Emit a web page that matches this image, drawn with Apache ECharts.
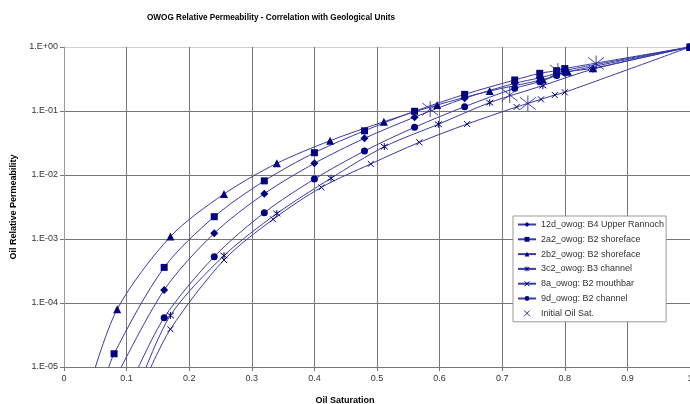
<!DOCTYPE html>
<html>
<head>
<meta charset="utf-8">
<script src="https://cdn.jsdelivr.net/npm/echarts@6/dist/echarts.min.js"></script>
<style>
  html, body { margin: 0; background: #fff; }
  #chart { width: 690px; height: 404px; }
</style>
</head>
<body>
<div id="chart"></div>
<script>
const seriesNames = [
  '12d_owog: B4 Upper Rannoch',
  '2a2_owog: B2 shoreface',
  '2b2_owog: B2 shoreface',
  '3c2_owog: B3 channel',
  '8a_owog: B2 mouthbar',
  '9d_owog: B2 channel',
  'Initial Oil Sat.'
]

// [oil saturation, oil relative permeability]
const kro12d = [[0.08, 6e-6], [0.16, 1.6e-4], [0.24, 1.23e-3], [0.32, 5.1e-3], [0.40, 0.0152], [0.48, 0.0374],
  [0.56, 0.080], [0.64, 0.158], [0.72, 0.271], [0.76, 0.33], [0.787, 0.39], [0.80, 0.43], [1, 1]]
const kro2a2 = [[0.062, 5e-6], [0.08, 1.61e-5], [0.16, 3.6e-4], [0.24, 2.23e-3], [0.32, 8.1e-3], [0.40, 0.0223],
  [0.48, 0.049], [0.56, 0.099], [0.64, 0.182], [0.72, 0.305], [0.76, 0.388], [0.787, 0.427], [0.80, 0.46], [1, 1]]
const kro2b2 = [[0.04, 4.7e-6], [0.085, 8.0e-5], [0.17, 1.09e-3], [0.2556, 5.05e-3], [0.34, 0.0152], [0.425, 0.0343],
  [0.511, 0.068], [0.596, 0.124], [0.68, 0.205], [0.765, 0.31], [0.805, 0.41], [0.845, 0.465], [1, 1]]
const kro3c2 = [[0.12, 5.2e-6], [0.17, 6.4e-5], [0.2556, 5.5e-4], [0.34, 2.5e-3], [0.4265, 8.9e-3], [0.5117, 0.0277],
  [0.598, 0.062], [0.68, 0.135], [0.765, 0.25], [0.845, 0.45], [1, 1]]
const kro8a = [[0.13, 6.4e-6], [0.17, 3.9e-5], [0.2556, 4.7e-4], [0.334, 2.03e-3], [0.411, 6.4e-3], [0.49, 0.0149],
  [0.5676, 0.0324], [0.644, 0.0626], [0.723, 0.1155], [0.762, 0.152], [0.784, 0.178], [0.80, 0.196], [1, 1]]
const kro9d = [[0.11, 6.4e-6], [0.16, 5.9e-5], [0.24, 5.3e-4], [0.32, 2.58e-3], [0.40, 8.65e-3], [0.48, 0.0237],
  [0.56, 0.0556], [0.64, 0.117], [0.72, 0.226], [0.76, 0.287], [0.787, 0.36], [0.80, 0.40], [1, 1]]
const initialOilSat = [[0.585, 0.107], [0.712, 0.178], [0.741, 0.131], [0.789, 0.42], [0.85, 0.552]]

const NAVY = '#000080'
const LINE = '#3a3aa6'
const FONT = '"Liberation Sans", Arial, sans-serif'

const STAR = 'path://M0,0L10,10M10,0L0,10M5,-1.5L5,11.5'
const CROSS = 'path://M0,0L10,10M10,0L0,10'
const STROKED = { color: 'rgba(0,0,0,0)', borderColor: NAVY, borderWidth: 1 }

function lineSeries(name, data, symbol, size, stroked) {
  return {
    name,
    type: 'line',
    data,
    smooth: 0.3,
    symbol,
    symbolSize: size,
    showAllSymbol: true,
    lineStyle: { color: LINE, width: 1 },
    itemStyle: stroked ? STROKED : { color: NAVY, borderWidth: 0 },
    emphasis: { disabled: true },
    z: 3,
  }
}

const chart = echarts.init(document.getElementById('chart'))

chart.setOption({
  backgroundColor: '#fff',
  animation: false,
  title: {
    text: 'OWOG Relative Permeability - Correlation with Geological Units',
    left: 142,
    top: 9,
    textStyle: { fontFamily: FONT, fontSize: 8.2, fontWeight: 'bold', color: '#000' },
  },
  grid: { left: 64, right: 0, top: 47, bottom: 37, outerBoundsMode: 'none' },
  xAxis: {
    type: 'value',
    min: 0,
    max: 1,
    interval: 0.1,
    name: 'Oil Saturation',
    nameLocation: 'middle',
    nameGap: 29,
    nameTextStyle: { fontFamily: FONT, fontSize: 9, fontWeight: 'bold', color: '#000', padding: [0, 64, 0, 0] },
    axisLine: { lineStyle: { color: '#777', width: 1 } },
    axisTick: { show: true, length: 4, lineStyle: { color: '#777' } },
    axisLabel: {
      color: '#333', fontFamily: FONT, fontSize: 9, margin: 7,
      formatter: v => String(parseFloat(v.toFixed(1))),
    },
    splitLine: { show: true, lineStyle: { color: '#777', width: 1 } },
  },
  yAxis: {
    type: 'log',
    logBase: 10,
    min: 1e-5,
    max: 1,
    name: 'Oil Relative Permeability',
    nameLocation: 'middle',
    nameGap: 43,
    nameTextStyle: { fontFamily: FONT, fontSize: 9, fontWeight: 'bold', color: '#000' },
    axisLine: { show: true, lineStyle: { color: '#999', width: 1 } },
    axisTick: { show: true, length: 4, lineStyle: { color: '#777' } },
    axisLabel: {
      color: '#333', fontFamily: FONT, fontSize: 9, margin: 6,
      formatter: v => {
        const e = Math.round(Math.log10(v))
        return '1.E' + (e < 0 ? '-' : '+') + String(Math.abs(e)).padStart(2, '0')
      },
    },
    splitLine: { show: true, lineStyle: { color: ['#777', '#777', '#777', '#777', '#777', '#cfcfcf'], width: 1 } },
    minorSplitLine: { show: false },
  },
  legend: {
    orient: 'vertical',
    left: 513,
    top: 216,
    itemWidth: 18,
    itemHeight: 6,
    itemGap: 5.8,
    padding: [4, 2, 4, 4],
    backgroundColor: '#fff',
    borderColor: '#999',
    borderWidth: 1,
    textStyle: { fontFamily: FONT, fontSize: 9, color: '#333' },
    data: [
      seriesNames[0],
      seriesNames[1],
      seriesNames[2],
      { name: seriesNames[3], itemStyle: STROKED },
      { name: seriesNames[4], itemStyle: STROKED },
      seriesNames[5],
      { name: seriesNames[6], icon: CROSS, itemStyle: STROKED },
    ],
  },
  series: [
    lineSeries(seriesNames[0], kro12d, 'diamond', 8, false),
    lineSeries(seriesNames[1], kro2a2, 'rect', 7, false),
    lineSeries(seriesNames[2], kro2b2, 'triangle', 8, false),
    lineSeries(seriesNames[3], kro3c2, STAR, 7, true),
    lineSeries(seriesNames[4], kro8a, CROSS, 6, true),
    lineSeries(seriesNames[5], kro9d, 'circle', 7, false),
    {
      name: seriesNames[6],
      type: 'scatter',
      data: initialOilSat,
      symbol: STAR,
      symbolSize: 16,
      itemStyle: { color: 'rgba(0,0,0,0)', borderColor: '#1a1a99', borderWidth: 1 },
      emphasis: { disabled: true },
      z: 4,
    },
  ],
})
</script>
</body>
</html>
